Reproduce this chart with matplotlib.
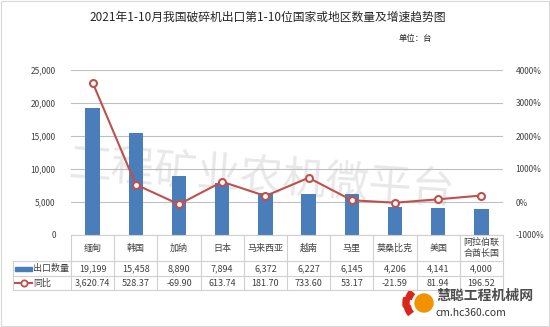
import matplotlib as mpl
from matplotlib import pyplot as plt
from matplotlib.transforms import blended_transform_factory
from matplotlib.patches import Rectangle, Circle, Wedge
from matplotlib.lines import Line2D
import numpy as np

plt.rcParams['font.family'] = ['Noto Sans CJK SC', 'DejaVu Sans']

countries = ['缅甸', '韩国', '加纳', '日本', '马来西亚', '越南', '马里', '莫桑比克', '美国', '阿拉伯联\n合酋长国']
export_qty = [19199, 15458, 8890, 7894, 6372, 6227, 6145, 4206, 4141, 4000]
yoy_pct = [3620.74, 528.37, -69.90, 613.74, 181.70, 733.60, 53.17, -21.59, 81.94, 196.52]

title = '2021年1-10月我国破碎机出口第1-10位国家或地区数量及增速趋势图'
unit = '单位：台'

bar_color = '#4a7ebb'
line_color = '#c0504d'
grid_color = '#bfbfbf'
text_color = '#404040'

W, H = 550, 327
fig = plt.figure(figsize=(W/100, H/100), dpi=100)

def fx(px):
    return px / W

def fy(py):
    return 1 - py / H

# plot area
left, right, top, bottom = 71, 503, 70, 235
ax = fig.add_axes([fx(left), fy(bottom), fx(right - left), (bottom - top) / H])
ax.patch.set_alpha(0)
n = len(countries)
x = np.arange(n)

ax.bar(x, export_qty, width=0.33, color=bar_color, zorder=2)
ax.set_xlim(-0.5, n - 0.5)
ax.set_ylim(0, 25000)
ax.set_yticks(np.arange(0, 25001, 5000))
ax.yaxis.set_major_formatter(mpl.ticker.FuncFormatter(lambda v, p: f'{int(v):,}'))
ax.grid(axis='y', color=grid_color, lw=0.8, zorder=0)
ax.set_xticks([])
for s in ax.spines.values():
    s.set_visible(False)
ax.tick_params(axis='y', length=0, labelsize=6, colors=text_color, pad=11)

ax2 = ax.twinx()
ax2.patch.set_alpha(0)
ax2.plot(x, yoy_pct, color=line_color, lw=1.5, marker='o', ms=5,
         mfc='white', mec=line_color, mew=1.5, zorder=3)
ax2.set_ylim(-1000, 4000)
ax2.set_yticks(np.arange(-1000, 4001, 1000))
ax2.yaxis.set_major_formatter(mpl.ticker.FuncFormatter(lambda v, p: f'{int(v)}%'))
for s in ax2.spines.values():
    s.set_visible(False)
ax2.tick_params(axis='y', length=0, labelsize=6, colors=text_color, pad=9)

# data table under the plot area
tr = blended_transform_factory(ax.transData, fig.transFigure)
row_y = [235, 261, 276, 290]
tcol = '#d0d0d0'
for i in range(n + 1):
    xb = i - 0.5
    fig.add_artist(Line2D([xb, xb], [fy(row_y[0]), fy(row_y[-1])], transform=tr, color=tcol, lw=0.8))
fig.add_artist(Line2D([-0.5, n - 0.5], [fy(row_y[0]), fy(row_y[0])], transform=tr, color=tcol, lw=0.8))
for py in row_y[1:]:
    fig.add_artist(Line2D([fx(13), fx(right)], [fy(py), fy(py)], transform=fig.transFigure, color=tcol, lw=0.8))
fig.add_artist(Line2D([fx(13), fx(13)], [fy(row_y[1]), fy(row_y[-1])], transform=fig.transFigure, color=tcol, lw=0.8))

for i in range(n):
    fig.text(i, fy((row_y[0] + row_y[1]) / 2), countries[i], transform=tr,
             ha='center', va='center', fontsize=6.5, color=text_color, linespacing=1.3)
    fig.text(i, fy((row_y[1] + row_y[2]) / 2), f'{export_qty[i]:,}', transform=tr,
             ha='center', va='center', fontsize=6.5, color=text_color)
    fig.text(i, fy((row_y[2] + row_y[3]) / 2), f'{yoy_pct[i]:,.2f}', transform=tr,
             ha='center', va='center', fontsize=6.5, color=text_color)

# legend keys inside the table
fig.add_artist(Rectangle((fx(15), fy(271)), fx(17), 4/H, transform=fig.transFigure,
                         color=bar_color))
fig.text(fx(33), fy(268.5), '出口数量', ha='left', va='center', fontsize=6.5, color=text_color)
fig.add_artist(Line2D([fx(15), fx(32)], [fy(283), fy(283)], transform=fig.transFigure,
                      color=line_color, lw=1.5))
fig.add_artist(Line2D([fx(23.5)], [fy(283)], transform=fig.transFigure,
                      color=line_color, marker='o', ms=4.5, mfc='white', mec=line_color, mew=1.3))
fig.text(fx(33), fy(283), '同比', ha='left', va='center', fontsize=6.5, color=text_color)

# titles
fig.text(fx(268), fy(17), title, ha='center', va='center', fontsize=8.5, color='#262626')
fig.text(fx(415), fy(38), unit, ha='center', va='center', fontsize=6, color='#262626')

# watermark, kept behind the bars
fig.text(fx(262), fy(178), '工程矿业农机微平台', ha='center', va='center', fontsize=31,
         color='#e8e8e8', rotation=-4, zorder=-1)

# site logo, drawn in a small pixel-scaled axes
lax = fig.add_axes([fx(395), fy(320), fx(40), 34/H])
lax.set_xlim(395, 435)
lax.set_ylim(320, 286)
lax.set_aspect('equal')
lax.axis('off')
for ang, r in ((158, 20), (185, 21), (212, 19)):
    lax.add_patch(Wedge((424, 303), r, ang - 16, ang + 10, width=6, color='#d9251c', clip_on=False))
lax.add_patch(Circle((424, 303), 10, color='white', zorder=4))
lax.add_patch(Circle((424, 303), 9, color='#f39200', zorder=5))
fig.text(fx(436), fy(296), '慧聪工程机械网', ha='left', va='center', fontsize=10,
         fontweight='bold', color='#4d4d4d')
fig.text(fx(436), fy(313), 'cm.hc360.com', ha='left', va='center', fontsize=7.5, color='#333333')

# outer frame
fig.add_artist(Rectangle((0.002, 0.003), 0.996, 0.994, transform=fig.transFigure,
                         fill=False, ec='#d9d9d9', lw=0.8))

fig.savefig('out.png', dpi=100)
